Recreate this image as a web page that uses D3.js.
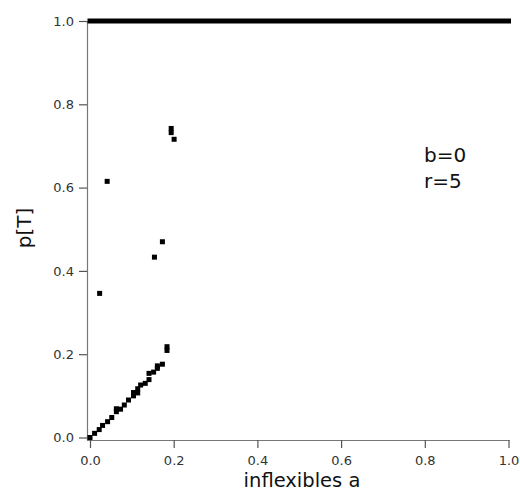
<!DOCTYPE html>
<html><head><meta charset="utf-8">
<script src="https://cdn.jsdelivr.net/npm/d3@7"></script>
<style>body{margin:0;background:#fff}svg{display:block}</style>
</head><body><div id="chart"></div>
<script>
// data: fraction of inflexibles a vs probability p[T]
const aValues = [0.000,0.011,0.022,0.030,0.042,0.052,0.063,0.063,0.073,0.082,0.092,0.104,0.104,0.114,0.114,0.121,0.132,0.141,0.141,0.152,0.161,0.161,0.173,0.184,0.184,
                 0.023,0.041,0.154,0.173,0.194,0.194,0.201];
const pValues = [0.000,0.010,0.019,0.029,0.038,0.048,0.062,0.069,0.068,0.078,0.090,0.100,0.108,0.107,0.117,0.126,0.130,0.139,0.154,0.157,0.166,0.172,0.176,0.218,0.209,
                 0.346,0.615,0.433,0.470,0.742,0.732,0.716];
const topA = [0, 1];
const topP = [1, 1];
const xTicks = [0, 0.2, 0.4, 0.6, 0.8, 1.0];
const yTicks = [0, 0.2, 0.4, 0.6, 0.8, 1.0];
const annotation = ["b=0", "r=5"];

const W = 520, H = 492;
const svg = d3.select("#chart").append("svg").attr("width", W).attr("height", H);
const x = d3.scaleLinear().domain([0, 1]).range([90, 508.5]);
const y = d3.scaleLinear().domain([0, 1]).range([437.5, 21]);
const font = "DejaVu Sans, Verdana, sans-serif";

// axes
const xAxis = svg.append("g").attr("transform", "translate(0,440)")
  .call(d3.axisBottom(x).tickValues(xTicks).tickFormat(d3.format(".1f")).tickSize(8).tickSizeOuter(0).tickPadding(8));
const yAxis = svg.append("g").attr("transform", "translate(87,0)")
  .call(d3.axisLeft(y).tickValues(yTicks).tickFormat(d3.format(".1f")).tickSize(8).tickSizeOuter(0).tickPadding(5));
[xAxis, yAxis].forEach(g => {
  g.select(".domain").attr("stroke", "#777").attr("stroke-width", 1.2);
  g.selectAll(".tick line").attr("stroke", "#555").attr("stroke-width", 1.2);
  g.selectAll(".tick text").attr("fill", "#333").style("font-family", font).style("font-size", "13px");
});
xAxis.select(".domain").attr("d", `M87,0.5H${x(1) + 1}`);
yAxis.select(".domain").attr("d", `M0.5,${y(1)}V440`);

// top line (p = 1 for all a)
const line = d3.line().x((d, i) => x(topA[i])).y((d, i) => y(topP[i]));
svg.append("path").datum(topA).attr("d", line).attr("fill", "none")
  .attr("stroke", "#000").attr("stroke-width", 5).attr("stroke-linecap", "square");

// points
const s = 5;
svg.append("g").selectAll("rect").data(aValues).join("rect")
  .attr("x", (d) => x(d) - s / 2).attr("y", (d, i) => y(pValues[i]) - s / 2)
  .attr("width", s).attr("height", s).attr("fill", "#000");

// annotation
svg.append("g").selectAll("text").data(annotation).join("text")
  .attr("x", 424).attr("y", (d, i) => 161.5 + i * 26.5)
  .style("font-family", font).style("font-size", "20px").attr("fill", "#111").text(d => d);

// titles
svg.append("text").attr("x", 302).attr("y", 486.5).attr("text-anchor", "middle")
  .style("font-family", font).style("font-size", "19.5px").attr("fill", "#111").text("inflexibles a");
svg.append("text").attr("transform", `translate(31,228) rotate(-90)`).attr("text-anchor", "middle")
  .style("font-family", font).style("font-size", "20px").attr("fill", "#111").text("p[T]");
</script></body></html>
